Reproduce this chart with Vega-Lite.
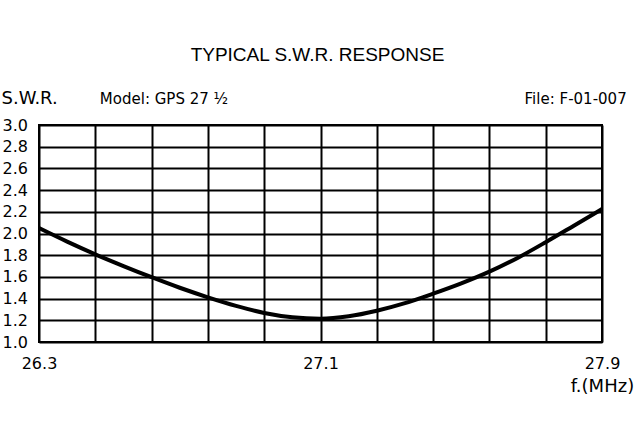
{
  "$schema": "https://vega.github.io/schema/vega-lite/v6.json",
  "width": 563,
  "height": 217,
  "autosize": {"type": "none"},
  "padding": {"left": 39, "top": 125, "right": 38, "bottom": 100},
  "background": "white",
  "config": {
    "view": {"stroke": "black", "strokeWidth": 2},
    "font": "DejaVu Sans",
    "axis": {"labelOverlap": false}
  },
  "title": {
    "text": "TYPICAL S.W.R. RESPONSE",
    "font": "Liberation Sans",
    "fontSize": 19,
    "fontWeight": "normal",
    "color": "black",
    "anchor": "middle",
    "offset": 24,
    "dx": -3
  },
  "datasets": {
    "curve": [
      {"f": 26.3, "swr": 2.05},
      {"f": 26.38, "swr": 1.925},
      {"f": 26.46, "swr": 1.808},
      {"f": 26.54, "swr": 1.7},
      {"f": 26.62, "swr": 1.597},
      {"f": 26.7, "swr": 1.5},
      {"f": 26.78, "swr": 1.412},
      {"f": 26.86, "swr": 1.333},
      {"f": 26.94, "swr": 1.268},
      {"f": 27.02, "swr": 1.228},
      {"f": 27.1, "swr": 1.215},
      {"f": 27.18, "swr": 1.237},
      {"f": 27.26, "swr": 1.288},
      {"f": 27.34, "swr": 1.358},
      {"f": 27.42, "swr": 1.445},
      {"f": 27.5, "swr": 1.54},
      {"f": 27.58, "swr": 1.648},
      {"f": 27.66, "swr": 1.775},
      {"f": 27.74, "swr": 1.92},
      {"f": 27.82, "swr": 2.072},
      {"f": 27.9, "swr": 2.225}
    ],
    "notes": [
      {"label": "Model:  GPS 27 ½", "f": 26.473, "swr": 3.24},
      {"label": "File:  F-01-007", "f": 27.68, "swr": 3.24}
    ]
  },
  "layer": [
    {
      "data": {"name": "curve"},
      "mark": {"type": "line", "color": "black", "strokeWidth": 4, "interpolate": "monotone"},
      "encoding": {
        "x": {
          "field": "f",
          "type": "quantitative",
          "scale": {"domain": [26.3, 27.9], "nice": false, "zero": false},
          "axis": {
            "values": [26.3, 26.46, 26.62, 26.78, 26.94, 27.1, 27.26, 27.42, 27.58, 27.74, 27.9],
            "tickCount": 11,
            "labelExpr": "indexof([26.3, 27.1, 27.9], datum.value) >= 0 ? format(datum.value, '.1f') : ''",
            "labelOverlap": false,
            "labelFlush": false,
            "labelFontSize": 16,
            "labelColor": "black",
            "labelPadding": 13,
            "ticks": false,
            "domain": false,
            "grid": true,
            "gridColor": "black",
            "gridWidth": 2,
            "gridOpacity": 1,
            "title": "f.(MHz)",
            "titleFontSize": 18,
            "titleFontWeight": "normal",
            "titleColor": "black",
            "titleX": 563,
            "titleY": 44,
            "titleAlign": "center",
            "titleBaseline": "middle"
          }
        },
        "y": {
          "field": "swr",
          "type": "quantitative",
          "scale": {"domain": [1, 3], "nice": false, "zero": false},
          "axis": {
            "values": [1, 1.2, 1.4, 1.6, 1.8, 2, 2.2, 2.4, 2.6, 2.8, 3],
            "tickCount": 11,
            "format": ".1f",
            "labelOverlap": false,
            "labelFontSize": 16,
            "labelColor": "black",
            "labelAlign": "left",
            "labelPadding": 37,
            "ticks": false,
            "domain": false,
            "grid": true,
            "gridColor": "black",
            "gridWidth": 2,
            "gridOpacity": 1,
            "title": "S.W.R.",
            "titleAngle": 0,
            "titleFontSize": 18,
            "titleFontWeight": "normal",
            "titleColor": "black",
            "titleX": -38,
            "titleY": -27,
            "titleAlign": "left",
            "titleBaseline": "middle"
          }
        }
      }
    },
    {
      "data": {"name": "notes"},
      "mark": {"type": "text", "align": "left", "baseline": "middle", "fontSize": 15, "color": "black", "clip": false},
      "encoding": {
        "x": {"field": "f", "type": "quantitative"},
        "y": {"field": "swr", "type": "quantitative"},
        "text": {"field": "label"}
      }
    }
  ]
}
